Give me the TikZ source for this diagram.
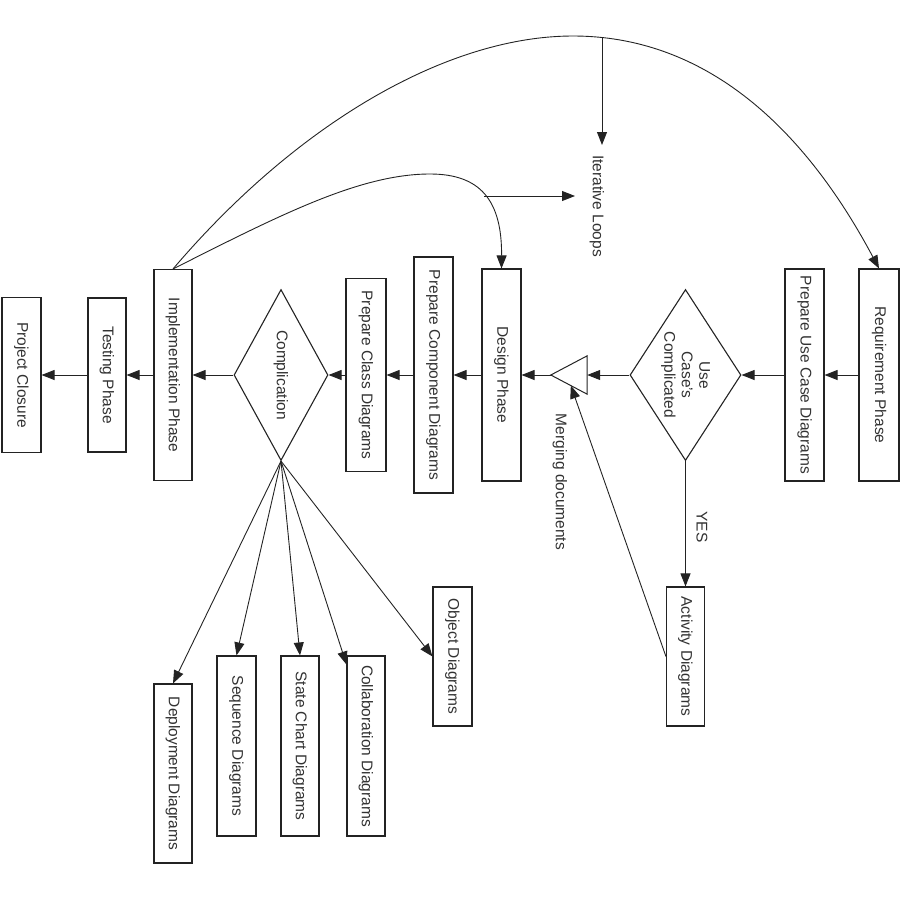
\documentclass[tikz,border=0pt]{standalone}
\usepackage{fontspec}
\setmainfont{Liberation Sans}
\usetikzlibrary{shapes.geometric,arrows.meta,calc}
\definecolor{ink}{RGB}{35,35,35}
\definecolor{txt}{RGB}{50,50,50}
\begin{document}
\begin{tikzpicture}[x=1pt,y=-1pt,
  lbl/.style={rotate=-90, text=txt, font=\fontsize{15.5}{17.5}\selectfont, inner sep=0pt},
  phase/.style={lbl, draw=ink, line width=1.1pt, rectangle},
  decision/.style={diamond, draw=ink, line width=1.1pt, inner sep=0pt, rotate=-90},
  flow/.style={draw=ink, line width=0.9pt, -{Triangle[length=13pt,width=10pt]}}]
\useasboundingbox (0,0) rectangle (900,900);

% main flow, right to left
\node[phase, minimum width=155pt, minimum height=39pt] (closure) at (21.5,375) {Project Closure};
\node[phase, minimum width=154pt, minimum height=38pt] (testing) at (107,375) {Testing Phase};
\node[phase, minimum width=211pt, minimum height=38pt] (impl) at (173,375) {Implementation Phase};
\node[decision, minimum width=171pt, minimum height=94pt] (compl) at (281,375) {};
\node[lbl] (compltext) at (281,375) {Complication};
\node[phase, minimum width=193pt, minimum height=40pt] (classd) at (366,375) {Prepare Class Diagrams};
\node[phase, minimum width=236pt, minimum height=39pt] (compd) at (433.5,375) {Prepare Component Diagrams};
\node[phase, minimum width=212pt, minimum height=39pt] (design) at (501.5,375) {Design Phase};
\node[inner sep=0pt, minimum width=36pt, minimum height=38pt] (merge) at (569,375) {};
\draw[ink, line width=1pt, line join=miter] (merge.north east) -- (merge.west) -- (merge.south east) -- cycle;
\node[decision, minimum width=171pt, minimum height=111pt] (usecase) at (685.5,375) {};
\node[lbl, align=center] (usecasetext) at (685.5,375) {Use\\Case's\\Complicated};
\node[phase, minimum width=212pt, minimum height=39pt] (ucdiag) at (804.5,375) {Prepare Use Case Diagrams};
\node[phase, minimum width=212pt, minimum height=40pt] (req) at (879,375) {Requirement Phase};

% detail diagrams
\node[phase, minimum width=139pt, minimum height=38pt] (activity) at (685.5,656.5) {Activity Diagrams};
\node[phase, minimum width=139pt, minimum height=39pt] (object) at (452.5,656.5) {Object Diagrams};
\node[phase, minimum width=179pt, minimum height=38pt] (deploy) at (173,773.5) {Deployment Diagrams};
\node[phase, minimum width=180pt, minimum height=39pt] (sequence) at (236.5,746) {Sequence Diagrams};
\node[phase, minimum width=180pt, minimum height=38pt] (state) at (300,746) {State Chart Diagrams};
\node[phase, minimum width=180pt, minimum height=38pt] (collab) at (366,746) {Collaboration Diagrams};

% free labels
\node[lbl] (iter) at (597,206) {Iterative Loops};
\node[lbl] (mergelbl) at (560,482) {Merging documents};
\node[lbl] (yes) at (702,527) {YES};

% chain connectors
\draw[flow] (req) -- (ucdiag);
\draw[flow] (ucdiag) -- (usecase);
\draw[flow] (usecase) -- (merge);
\draw[flow] (merge.west) -- (design);
\draw[flow] (design) -- (compd);
\draw[flow] (compd) -- (classd);
\draw[flow] (classd) -- (compl);
\draw[flow] (compl) -- (impl);
\draw[flow] (impl) -- (testing);
\draw[flow] (testing) -- (closure);

% decision branch and merge feedback
\draw[flow] (usecase) -- (activity);
\draw[flow] (activity.south) -- ($(merge.west)!0.55!(merge.south east)$);

% fan out of the complication decision
\draw[flow] (compl.east) -- (deploy.west);
\draw[flow] (compl.east) -- (sequence.west);
\draw[flow] (compl.east) -- (state.west);
\draw[flow] (compl.east) -- ($(collab.south west)!0.05!(collab.south east)$);
\draw[flow] (compl.east) -- (object.south);

% iterative loops
\draw[flow] (impl.west) .. controls (300,120) and (450,36) .. (573,36)
  .. controls (700,36) and (800,120) .. (req.west);
\draw[flow] (impl.west) .. controls (280,215) and (360,174) .. (430,174)
  .. controls (480,174) and (502,200) .. (design.west);
\coordinate (looptop) at (602,37);
\coordinate (iterin) at (602,145);
\coordinate (branch) at (484,196);
\coordinate (iterside) at (575,196);
\draw[flow] (looptop) -- (iterin);
\draw[flow] (branch) -- (iterside);
\end{tikzpicture}
\end{document}
